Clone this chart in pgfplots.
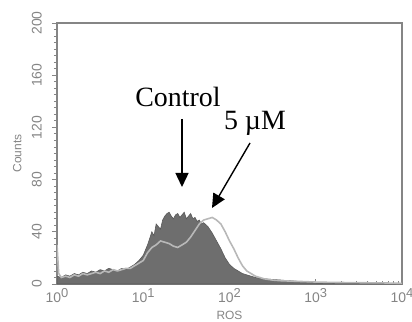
\documentclass[border=0pt]{standalone}
\usepackage{fontspec}
\setmainfont{Liberation Serif}
\newfontfamily\ar{Liberation Sans}
\usepackage{pgfplots}
\usetikzlibrary{arrows.meta}
\pgfplotsset{compat=1.18}
\definecolor{frame}{HTML}{858585}
\definecolor{lbl}{HTML}{858585}
\definecolor{ctrl}{HTML}{6E6E6E}
\definecolor{ctrlline}{HTML}{5A5A5A}
\definecolor{treat}{HTML}{B8B8B8}
\pgfplotstableread{
t y
0.00 6
0.05 5
0.10 7
0.15 6
0.20 8
0.25 7
0.30 9
0.35 8
0.40 10
0.45 9
0.50 11
0.55 10
0.60 12
0.65 11
0.70 10
0.75 12
0.80 11
0.85 13
0.90 15
0.95 18
1.00 22
1.05 30
1.10 40
1.125 37
1.15 46
1.175 44
1.20 42
1.225 49
1.25 52
1.275 54
1.30 55
1.325 52
1.35 50
1.375 53
1.40 54
1.425 51
1.45 53
1.475 55
1.50 50
1.525 52
1.55 54
1.575 50
1.60 51
1.625 48
1.65 49
1.675 46
1.70 47
1.75 44
1.80 39
1.85 33
1.90 27
1.95 20
2.00 15
2.05 12
2.10 10
2.15 8
2.20 7
2.25 6
2.30 5
2.40 4
2.50 3.5
2.60 3
2.70 2.5
2.80 2
2.90 1.5
3.00 1
3.20 0.8
3.50 0.5
4.00 0
}\control
\pgfplotstableread{
t y
0.00 30
0.02 8
0.05 5
0.10 6
0.15 5
0.20 7
0.25 6
0.30 8
0.35 7
0.40 8
0.45 9
0.50 8
0.55 10
0.60 9
0.65 11
0.70 10
0.75 11
0.80 12
0.85 12
0.90 14
0.95 16
1.00 18
1.05 24
1.10 28
1.15 30
1.20 33
1.25 32
1.30 31
1.35 29
1.40 28
1.45 30
1.50 32
1.55 36
1.60 41
1.65 46
1.70 49
1.75 50
1.80 51
1.85 49
1.90 46
1.95 40
2.00 33
2.05 27
2.10 20
2.15 14
2.20 10
2.25 8
2.30 6
2.40 4
2.50 3
2.60 2.5
2.80 2
3.00 1.5
3.20 1.2
3.50 1
3.80 0.8
4.00 0.5
}\treated
\newcommand{\dec}[1]{10\raisebox{0.75ex}{\fontsize{13}{13}\selectfont #1}}
\begin{document}
\begin{tikzpicture}
\path[use as bounding box] (-57bp,-38bp) rectangle (355bp,284bp);
\begin{axis}[
  at={(0,0)}, anchor=south west,
  scale only axis, width=345bp, height=261bp,
  xmin=0, xmax=4, ymin=0, ymax=200,
  axis line style={frame, line width=1.2pt},
  xtick={0,1,2,3,4},
  xticklabels={\dec{0},\dec{1},\dec{2},\dec{3},\dec{4}},
  minor xtick={0.301,0.477,0.602,0.699,0.778,0.845,0.903,0.954,
    1.301,1.477,1.602,1.699,1.778,1.845,1.903,1.954,
    2.301,2.477,2.602,2.699,2.778,2.845,2.903,2.954,
    3.301,3.477,3.602,3.699,3.778,3.845,3.903,3.954},
  ytick={0,40,80,120,160,200},
  minor y tick num=7,
  xtick pos=bottom, ytick pos=left,
  xtick align=inside, ytick align=outside,
  major tick length=5bp, minor tick length=3bp,
  tick style={frame, line width=0.9pt},
  /pgf/number format/assume math mode=true,
  ticklabel style={font=\ar\fontsize{14}{14}\selectfont, text=lbl},
  yticklabel style={rotate=90, anchor=south, inner sep=1pt},
  yticklabel shift=9bp,
  xticklabel style={anchor=north, inner sep=1pt},
  xticklabel shift=3bp,
  xlabel={ROS}, ylabel={Counts},
  label style={font=\ar\fontsize{12}{12}\selectfont, text=lbl},
  xlabel style={yshift=-4bp},
  ylabel style={yshift=6bp},
  clip=true,
]
\addplot[fill=ctrl, draw=ctrlline, line width=0.6pt] table[x=t,y=y]{\control} \closedcycle;
\addplot[draw=treat, line width=1.6pt] table[x=t,y=y]{\treated};
\end{axis}
\node[font=\fontsize{28}{28}\selectfont, anchor=base] at (121bp,177bp) {Control};
\node[font=\fontsize{28}{28}\selectfont, anchor=base] at (198bp,154bp) {5 µM};
\draw[-{Triangle[length=14bp,width=13bp]}, line width=1.4pt, black] (125bp,165bp) -- (125bp,97bp);
\draw[-{Triangle[length=14bp,width=13bp]}, line width=1.4pt, black] (193bp,141bp) -- (155bp,76bp);
\end{tikzpicture}
\end{document}
